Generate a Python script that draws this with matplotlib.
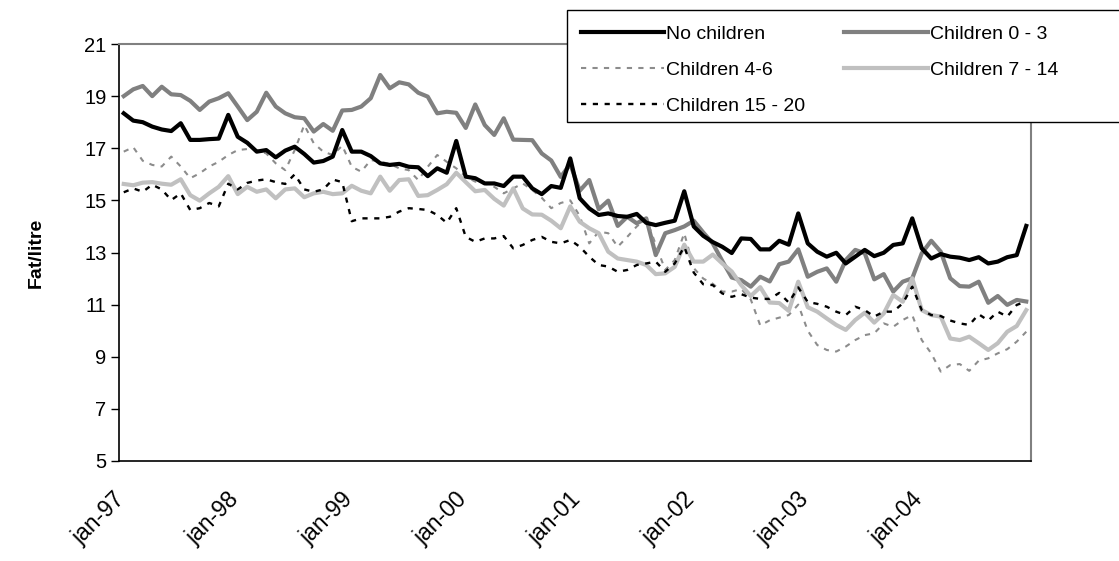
import numpy as np
import matplotlib
matplotlib.use('Agg')
import matplotlib.pyplot as plt
from matplotlib.patches import Rectangle
from matplotlib.transforms import ScaledTranslation

plt.rcParams['font.family'] = ['Liberation Sans', 'DejaVu Sans']

# monthly values jan-97 .. dec-04
no_children = [18.34, 18.06, 18.0, 17.83, 17.72, 17.66, 17.96, 17.32, 17.32, 17.35, 17.37, 18.28,
               17.44, 17.21, 16.87, 16.93, 16.65, 16.91, 17.06, 16.78, 16.45, 16.51, 16.68, 17.7,
               16.87, 16.87, 16.7, 16.42, 16.36, 16.4, 16.29, 16.27, 15.93, 16.23, 16.06, 17.28,
               15.91, 15.85, 15.65, 15.65, 15.55, 15.91, 15.91, 15.46, 15.24, 15.55, 15.48, 16.61,
               15.08, 14.69, 14.44, 14.5, 14.4, 14.37, 14.48, 14.14, 14.05, 14.14, 14.22, 15.35,
               14.0, 13.64, 13.4, 13.22, 12.98, 13.54, 13.52, 13.12, 13.12, 13.45, 13.3, 14.5,
               13.35, 13.03, 12.84, 12.99, 12.58, 12.84, 13.1, 12.86, 12.99, 13.29, 13.35, 14.31,
               13.16, 12.77, 12.94, 12.84, 12.8, 12.71, 12.82, 12.58, 12.65, 12.82, 12.9, 14.02]

children_0_3 = [19.0, 19.26, 19.39, 19.0, 19.36, 19.07, 19.04, 18.82, 18.47, 18.79, 18.92, 19.11,
                18.6, 18.08, 18.4, 19.13, 18.6, 18.34, 18.19, 18.15, 17.64, 17.93, 17.67, 18.45,
                18.47, 18.6, 18.92, 19.81, 19.3, 19.53, 19.45, 19.13, 18.98, 18.34, 18.4, 18.36,
                17.78, 18.68, 17.89, 17.51, 18.15, 17.33, 17.32, 17.31, 16.8, 16.53, 15.9, 16.39,
                15.37, 15.78, 14.66, 14.99, 14.02, 14.37, 14.12, 14.31, 12.9, 13.74, 13.86, 14.0,
                14.22, 13.77, 13.35, 12.68, 12.04, 11.94, 11.69, 12.07, 11.89, 12.55, 12.65, 13.12,
                12.07, 12.26, 12.39, 11.88, 12.71, 13.1, 12.97, 11.97, 12.17, 11.5, 11.88, 12.01,
                12.97, 13.45, 13.03, 12.01, 11.71, 11.69, 11.88, 11.07, 11.33, 10.99, 11.18, 11.12]

children_4_6 = [16.87, 17.04, 16.52, 16.36, 16.3, 16.68, 16.3, 15.85, 16.04, 16.3, 16.48, 16.74,
                16.93, 16.97, 16.93, 16.8, 16.42, 16.16, 16.93, 17.89, 17.19, 16.87, 16.74, 17.1,
                16.29, 16.1, 16.55, 16.48, 16.4, 16.23, 16.16, 15.78, 16.29, 16.74, 16.48, 16.23,
                15.91, 15.72, 15.65, 15.52, 15.27, 15.46, 15.65, 15.4, 15.1, 14.7, 14.9, 15.0,
                14.4, 13.35, 13.8, 13.74, 13.22, 13.6, 14.0, 14.3, 13.3, 12.33, 12.71, 13.74,
                12.4, 12.0, 11.8, 11.5, 11.5, 11.6, 11.2, 10.2, 10.4, 10.5, 10.6, 11.0,
                10.0, 9.45, 9.26, 9.2, 9.39, 9.64, 9.83, 9.9, 10.28, 10.15, 10.41, 10.6,
                9.64, 9.13, 8.43, 8.68, 8.72, 8.46, 8.85, 8.94, 9.13, 9.29, 9.58, 9.96]

children_7_14 = [15.63, 15.58, 15.68, 15.7, 15.64, 15.6, 15.81, 15.2, 14.99, 15.27, 15.52, 15.93,
                 15.24, 15.52, 15.33, 15.42, 15.08, 15.42, 15.46, 15.12, 15.27, 15.33, 15.24, 15.27,
                 15.56, 15.37, 15.27, 15.91, 15.37, 15.78, 15.81, 15.17, 15.2, 15.4, 15.62, 16.06,
                 15.7, 15.35, 15.4, 15.06, 14.8, 15.46, 14.69, 14.46, 14.45, 14.22, 13.93, 14.77,
                 14.18, 13.93, 13.74, 13.03, 12.77, 12.71, 12.65, 12.52, 12.17, 12.2, 12.45, 13.3,
                 12.65, 12.65, 12.92, 12.58, 12.27, 11.75, 11.33, 11.67, 11.08, 11.06, 10.76, 11.88,
                 10.9, 10.73, 10.47, 10.22, 10.03, 10.41, 10.69, 10.31, 10.66, 11.37, 11.11, 12.01,
                 10.79, 10.6, 10.54, 9.7, 9.64, 9.77, 9.52, 9.26, 9.52, 9.96, 10.18, 10.79]

children_15_20 = [15.31, 15.46, 15.33, 15.6, 15.42, 15.01, 15.27, 14.63, 14.7, 14.9, 14.77, 15.64,
                  15.42, 15.67, 15.76, 15.81, 15.7, 15.63, 16.0, 15.42, 15.33, 15.42, 15.8, 15.7,
                  14.2, 14.31, 14.31, 14.31, 14.37, 14.57, 14.7, 14.67, 14.63, 14.44, 14.14, 14.7,
                  13.6, 13.41, 13.54, 13.54, 13.63, 13.16, 13.29, 13.48, 13.6, 13.41, 13.35, 13.48,
                  13.22, 12.84, 12.52, 12.46, 12.26, 12.33, 12.52, 12.58, 12.65, 12.26, 12.58, 13.22,
                  12.23, 11.78, 11.75, 11.43, 11.3, 11.4, 11.27, 11.22, 11.22, 11.45, 11.08, 11.66,
                  11.1, 11.03, 10.92, 10.73, 10.6, 10.92, 10.79, 10.54, 10.73, 10.73, 11.05, 11.69,
                  10.79, 10.6, 10.56, 10.39, 10.28, 10.22, 10.63, 10.39, 10.73, 10.54, 10.99, 11.12]

year_labels = ['jan-97', 'jan-98', 'jan-99', 'jan-00', 'jan-01', 'jan-02', 'jan-03', 'jan-04']
y_ticks = [5, 7, 9, 11, 13, 15, 17, 19, 21]

x = np.arange(len(no_children))
W, H = 1119, 561

fig = plt.figure(figsize=(W / 100, H / 100), dpi=100)
ax = fig.add_axes([119 / W, 1 - 461 / H, 912 / W, 417 / H])

l1, = ax.plot(x, no_children, color='black', lw=3, label='No children', zorder=5)
l2, = ax.plot(x, children_0_3, color='#808080', lw=3, label='Children 0 - 3')
l3, = ax.plot(x, children_4_6, color='#8c8c8c', lw=1.5, dashes=(2.5, 3), label='Children 4-6')
l4, = ax.plot(x, children_7_14, color='#c0c0c0', lw=3, label='Children 7 - 14')
l5, = ax.plot(x, children_15_20, color='black', lw=1.7, dashes=(2.2, 2.8), label='Children 15 - 20')

ax.set_xlim(-0.5, len(x) - 0.5)
ax.set_ylim(5, 21)
ax.set_yticks(y_ticks)
ax.set_yticklabels([str(v) for v in y_ticks], fontsize=14.5)
ax.set_xticks([-0.5 + 12 * i for i in range(len(year_labels))])
ax.set_xticklabels(year_labels, rotation=45, ha='right', va='top',
                   rotation_mode='anchor', fontsize=16.5)
ax.tick_params(axis='y', direction='out', length=6, width=1, pad=3)
ax.tick_params(axis='x', length=0, pad=9)
shift = ScaledTranslation(-0.06, -0.14, fig.dpi_scale_trans)
for lab in ax.get_xticklabels():
    lab.set_transform(lab.get_transform() + shift)

for s in ['left', 'bottom']:
    ax.spines[s].set_color('black')
    ax.spines[s].set_linewidth(1.2)
for s in ['top', 'right']:
    ax.spines[s].set_color('#808080')
    ax.spines[s].set_linewidth(1.5)

ax.set_ylabel('Fat/litre', fontsize=14, fontweight='bold', labelpad=28)

# legend box (runs off the right edge like the original)
box = Rectangle((567 / W, 1 - 122 / H), 600 / W, 112 / H, transform=fig.transFigure,
                facecolor='white', edgecolor='black', lw=1.0, zorder=3)
fig.patches.append(box)

leg = fig.legend(handles=[l1, l3, l5, l2, l4], loc='upper left',
                 bbox_to_anchor=(567 / W, 1 - 12 / H), ncol=2, fontsize=14,
                 frameon=False, handlelength=4.3, handletextpad=0.1,
                 columnspacing=2.0, labelspacing=0.93, borderpad=0.7, borderaxespad=0)
leg.set_zorder(4)

fig.savefig('out.png', dpi=100)
